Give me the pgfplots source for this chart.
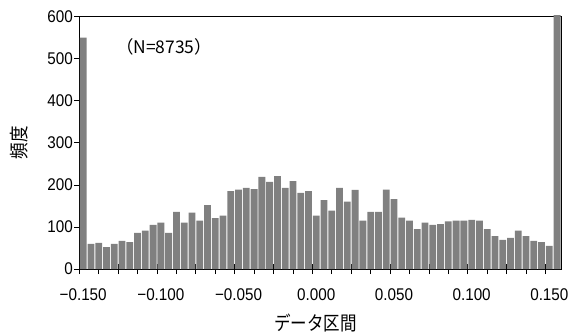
\documentclass[border=0pt]{standalone}
\usepackage{fontspec}
\usepackage{pgfplots}
\pgfplotsset{compat=1.18}
\setmainfont{Liberation Sans}[FakeStretch=0.9]
\newfontfamily\jp{Noto Sans CJK JP}[FakeStretch=0.85]
\newfontfamily\jpwide{Noto Sans CJK JP}
\definecolor{bargray}{RGB}{128,128,128}

% histogram counts: bins -0.150, -0.145, ..., 0.150, then the overflow bin
\pgfplotstableread{
i  n
0  550
1  60
2  62
3  52
4  60
5  67
6  64
7  86
8  91
9  105
10 110
11 86
12 136
13 110
14 134
15 115
16 152
17 121
18 127
19 185
20 189
21 193
22 190
23 219
24 207
25 221
26 193
27 209
28 181
29 185
30 127
31 164
32 139
33 193
34 160
35 188
36 115
37 136
38 136
39 189
40 166
41 122
42 115
43 95
44 110
45 105
46 107
47 113
48 115
49 115
50 117
51 115
52 95
53 78
54 69
55 74
56 91
57 78
58 67
59 64
60 55
61 604
}\freq

\begin{document}
\begin{tikzpicture}
\begin{axis}[
  scale only axis,
  width=481.7bp, height=252.3bp,
  xmin=-0.5, xmax=61.5,
  ymin=0, ymax=600,
  clip=false,
  axis line style={black, line width=0.8pt},
  tick align=center,
  xtick pos=bottom, ytick pos=left,
  major tick length=0pt,
  minor tick length=10bp,
  every minor tick/.style={black, line width=0.8pt},
  xtick={0,10,...,60},
  xticklabels={−0.150,−0.100,−0.050,0.000,0.050,0.100,0.150},
  minor xtick={-0.5,2,...,59.5},
  ytick={0,100,...,600},
  minor ytick={0,100,...,600},
  /pgf/number format/assume math mode=true,
  tick label style={font=\fontsize{17}{17}\selectfont},
  xticklabel style={yshift=-16bp},
  yticklabel style={xshift=-3bp},
  xlabel={\jp データ区間},
  ylabel={\jp 頻度},
  label style={font=\fontsize{19.5}{19.5}\selectfont},
  xlabel style={at={(rel axis cs:0.49,0)}, anchor=base, yshift=-61bp},
  ylabel style={at={(rel axis cs:-0.1245,0.5)}, anchor=center},
]
\addplot[ybar, bar width=6.8bp, fill=bargray, draw=none] table[x=i, y=n] {\freq};
\node[font=\jpwide\fontsize{17.5}{17.5}\selectfont] at (axis cs:10.4,528) {（N=8735）};
\end{axis}
\pgfresetboundingbox
\path (current axis.south west) ++(-79.3bp,-63bp) rectangle ++(569bp,332bp);
\end{tikzpicture}
\end{document}
